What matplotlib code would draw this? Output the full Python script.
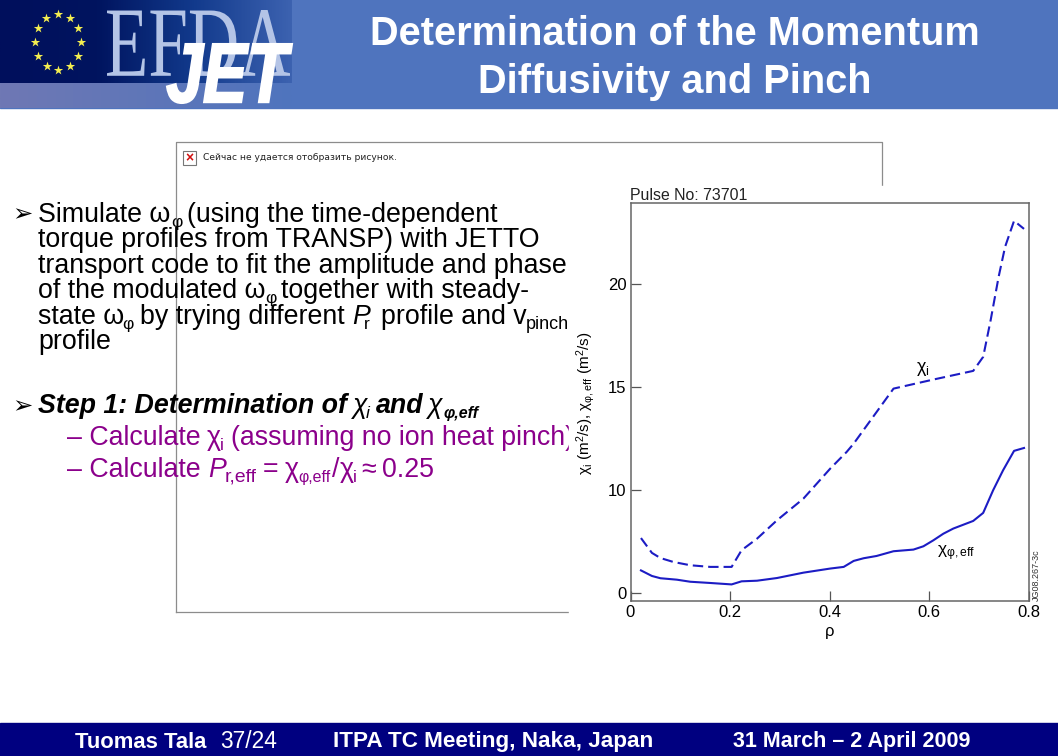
import numpy as np
import matplotlib
matplotlib.use('Agg')
import matplotlib.pyplot as plt
from matplotlib.patches import Rectangle, PathPatch
from matplotlib.textpath import TextPath
from matplotlib.font_manager import FontProperties
from matplotlib.transforms import Affine2D

plt.rcParams['font.family'] = ['Liberation Sans', 'DejaVu Sans']
plt.rcParams['mathtext.fontset'] = 'custom'
plt.rcParams['mathtext.rm'] = 'Liberation Sans'
plt.rcParams['mathtext.it'] = 'Liberation Sans:italic'
plt.rcParams['mathtext.bf'] = 'Liberation Sans:bold'
plt.rcParams['mathtext.fallback'] = 'stix'

# curves
rho_i = [0.021, 0.043, 0.060, 0.086, 0.120, 0.160, 0.203, 0.223, 0.254, 0.294, 0.347, 0.401,
         0.434, 0.448, 0.481, 0.528, 0.608, 0.688, 0.708, 0.723, 0.739, 0.752, 0.770, 0.790]
chi_i = [7.65, 6.93, 6.68, 6.49, 6.33, 6.25, 6.25, 7.06, 7.62, 8.51, 9.56, 11.02,
         11.83, 12.23, 13.33, 14.90, 15.34, 15.76, 16.44, 18.22, 20.32, 21.78, 23.04, 22.65]
rho_phi = [0.021, 0.043, 0.060, 0.093, 0.120, 0.160, 0.203, 0.223, 0.254, 0.294, 0.347, 0.401,
           0.428, 0.448, 0.468, 0.494, 0.528, 0.568, 0.588, 0.608, 0.628, 0.648, 0.688, 0.708,
           0.728, 0.748, 0.770, 0.790]
chi_phi = [6.08, 5.81, 5.70, 5.63, 5.53, 5.47, 5.40, 5.55, 5.58, 5.71, 5.97, 6.17,
           6.25, 6.54, 6.67, 6.78, 7.01, 7.09, 7.25, 7.54, 7.86, 8.11, 8.48, 8.87,
           9.97, 10.94, 11.88, 12.02]
x_ticks = [0, 0.2, 0.4, 0.6, 0.8]
x_labels = ['0', '0.2', '0.4', '0.6', '0.8']
y_ticks = [5, 10, 15, 20]
y_labels = ['0', '10', '15', '20']

W, H = 1058, 756
fig = plt.figure(figsize=(W / 100, H / 100), dpi=100)
bg = fig.add_axes([0, 0, 1, 1])
bg.set_xlim(0, W)
bg.set_ylim(H, 0)
bg.axis('off')

# header and footer
bg.add_patch(Rectangle((0, 0), W, 108, color='#4f74be', zorder=1))
bg.add_patch(Rectangle((0, 723), W, 33, color='#000080', zorder=1))
grad = np.linspace(0, 1, 200)[None, :]
dark = matplotlib.colors.LinearSegmentedColormap.from_list('d', ['#000f5c', '#00145f', '#123a8c', '#3c62b0'])
band = matplotlib.colors.LinearSegmentedColormap.from_list('b', ['#6f78b4', '#5f76b8', '#4f74be'])
bg.imshow(grad, extent=(0, 292, 83, 0), cmap=dark, aspect='auto', zorder=2)
bg.imshow(grad, extent=(0, 292, 108, 83), cmap=band, aspect='auto', zorder=2)
bg.set_xlim(0, W)
bg.set_ylim(H, 0)


def logo_text(s, x0, x1, y0, y1, color, lw=0, **font):
    # stretch the word into a pixel box
    path = TextPath((0, 0), s, size=100, prop=FontProperties(**font))
    box = path.get_extents()
    tr = (Affine2D().translate(-box.x0, -box.y0)
          .scale((x1 - x0) / box.width, -(y1 - y0) / box.height)
          .translate(x0, y1))
    bg.add_patch(PathPatch(path, transform=tr + bg.transData, fc=color, ec=color, lw=lw, zorder=3))


logo_text('EFDA', 107, 290, 10, 76, '#b4c4e6', family='Liberation Serif')
logo_text('JET', 167, 292, 44, 103, 'white', lw=1.5, family='Liberation Sans', weight='bold', style='italic')
ang = np.deg2rad(np.arange(0, 360, 30))
bg.scatter(58 + 23 * np.cos(ang), 42 + 28 * np.sin(ang), marker='*', s=50, color='#f4ee50', zorder=3, lw=0)

bg.text(675, 34, 'Determination of the Momentum', color='white', fontsize=28.6, fontweight='bold',
        ha='center', va='center', zorder=4)
bg.text(675, 82, 'Diffusivity and Pinch', color='white', fontsize=28.6, fontweight='bold',
        ha='center', va='center', zorder=4)

bg.text(75, 742, 'Tuomas Tala', color='white', fontsize=15.8, fontweight='bold', va='center', zorder=4)
bg.text(220, 742, '37/24', color='white', fontsize=16.4, va='center', zorder=4)
bg.text(333, 742, 'ITPA TC Meeting, Naka, Japan', color='white', fontsize=16.2, fontweight='bold',
        va='center', zorder=4)
bg.text(733, 742, '31 March – 2 April 2009', color='white', fontsize=15.5, fontweight='bold',
        va='center', zorder=4)

# broken picture frame
bg.plot([176, 176, 882, 882], [612, 142, 142, 186], color='#8c8c8c', lw=0.9, zorder=2)
bg.plot([176, 568], [612, 612], color='#8c8c8c', lw=0.9, zorder=2)
bg.add_patch(Rectangle((183, 151), 13, 14, fc='white', ec='#777777', lw=0.8, zorder=3))
bg.text(189.5, 158, '×', color='#d01010', fontsize=10, fontweight='bold', ha='center', va='center', zorder=4)
bg.text(203, 157, 'Сейчас не удается отобразить рисунок.', family=['DejaVu Sans'], fontsize=6.6,
        color='#222222', va='center', zorder=4)


# the slide sets its runs tighter than mathtext, so each run gets its own x
def run(x, y, s, size=19.3, **kw):
    bg.text(x, y, s, fontsize=size, va='baseline', zorder=5, **kw)


def sub(x, y, s, size=12.5, **kw):
    run(x, y + 5, s, size=size, **kw)


line_y = [222 + i * 25.4 for i in range(6)]
run(12, 221, '➢', size=17.5, family=['DejaVu Sans'])
run(38, line_y[0], 'Simulate ω')
sub(171, line_y[0], 'φ')
run(187, line_y[0], '(using the time-dependent')
run(38, line_y[1], 'torque profiles from TRANSP) with JETTO')
run(38, line_y[2], 'transport code to fit the amplitude and phase')
run(38, line_y[3], 'of the modulated ω')
sub(265, line_y[3], 'φ')
run(281, line_y[3], 'together with steady-')
run(38, line_y[4], 'state ω')
sub(122, line_y[4], 'φ')
run(140, line_y[4], 'by trying different')
run(352, line_y[4], 'P', fontstyle='italic')
sub(364, line_y[4], 'r')
run(381, line_y[4], 'profile and v')
sub(526, line_y[4], 'pinch', size=13)
run(38, line_y[5], 'profile')

run(12, 413, '➢', size=17.5, family=['DejaVu Sans'])
run(38, 413, 'Step 1: Determination of', fontweight='bold', fontstyle='italic')
run(353, 413, 'χ', fontstyle='italic')
sub(366, 413, 'i', fontstyle='italic')
run(376, 413, 'and', fontweight='bold', fontstyle='italic')
run(428, 413, 'χ', fontstyle='italic')
sub(444, 413, 'φ,eff', size=11.5, fontweight='bold', fontstyle='italic')

purple = '#8b008b'
run(67, 445, '– Calculate', color=purple)
run(207, 445, 'χ', color=purple)
sub(220, 445, 'i', color=purple)
run(231, 445, '(assuming no ion heat pinch)', color=purple)
run(67, 477, '– Calculate', color=purple)
run(208, 477, 'P', color=purple, fontstyle='italic')
sub(225, 477, 'r,eff', size=14, color=purple)
run(263, 477, '=', color=purple)
run(285, 477, 'χ', color=purple)
sub(298, 477, 'φ,eff', size=11.5, color=purple)
run(332, 477, '/', color=purple)
run(340, 477, 'χ', color=purple)
sub(353, 477, 'i', color=purple)
run(361, 477, '≈', color=purple)
run(382, 477, '0.25', color=purple)

# white picture of the plot sits over the text, the pinch subscript just ends at its edge
bg.add_patch(Rectangle((569, 186), W - 569, 464, color='white', zorder=6))

left, right, top, bottom = 630.5, 1029, 202.5, 600.7
ax = fig.add_axes([left / W, 1 - bottom / H, (right - left) / W, (bottom - top) / H], zorder=2)
ax.plot(rho_i, chi_i, color='#1c1cc4', lw=1.5, ls=(0, (5, 2.4)))
ax.plot(rho_phi, chi_phi, color='#1c1cc4', lw=1.5)
ax.set_xlim(0, 0.8)
ax.set_ylim(4.61, 23.93)
ax.set_xticks(x_ticks, x_labels)
ax.set_yticks(y_ticks, y_labels)
ax.tick_params(direction='in', length=7, width=0.9, color='#555555', labelsize=12, pad=3)
ax.tick_params(axis='x', pad=3)
for sp in ax.spines.values():
    sp.set_color('#666666')
    sp.set_linewidth(1.1)
ax.set_xlabel(r'$\mathrm{ρ}$', fontsize=12, labelpad=4)
ax.text(0, 1.0, 'Pulse No: 73701', transform=ax.transAxes, fontsize=11.4, color='#222222', va='bottom')
ax.text(0.573, 15.4, r'$\mathrm{χ}_{\mathrm{i}}$', fontsize=13, va='bottom')
ax.text(0.615, 6.45, r'$\mathrm{χ}_{\mathrm{φ,eff}}$', fontsize=12.5, va='bottom')
ax.text(1.007, 0.0, 'JG08.267-3c', transform=ax.transAxes, rotation=90, fontsize=6.5, va='bottom', ha='left',
        color='#333333')
fig.text(586 / W, 1 - 403 / H, r'$\mathrm{χ}_{\mathrm{i}}$ (m$^2$/s), $\mathrm{χ}_{\mathrm{φ,eff}}$ (m$^2$/s)', rotation=90,
         fontsize=11, ha='center', va='center', zorder=5)

fig.savefig('out.png', dpi=100)
